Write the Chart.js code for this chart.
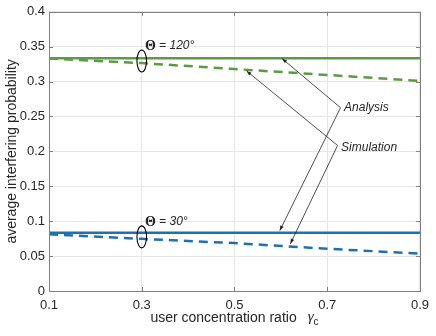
<!DOCTYPE html>
<html><head><meta charset="utf-8">
<script src="https://cdn.jsdelivr.net/npm/chart.js@4"></script>
<style>html,body{margin:0;padding:0;background:#fff}canvas{display:block}</style>
</head><body>
<canvas id="c" width="436" height="336"></canvas>
<script>
// ---- data ----
const xValues = [0.1, 0.3, 0.5, 0.7, 0.9];
const analysis120 = [0.3333, 0.3333, 0.3333, 0.3333, 0.3333];
const simulation120 = [0.333, 0.3265, 0.318, 0.3095, 0.301];
const analysis30 = [0.0833, 0.0833, 0.0833, 0.0833, 0.0833];
const simulation30 = [0.0814, 0.0747, 0.0686, 0.0605, 0.0536];
const xTicks = [0.1, 0.3, 0.5, 0.7, 0.9];
const xTickLabels = ['0.1', '0.3', '0.5', '0.7', '0.9'];
const yTicks = [0, 0.05, 0.1, 0.15, 0.2, 0.25, 0.3, 0.35, 0.4];
const yTickLabels = ['0', '0.05', '0.1', '0.15', '0.2', '0.25', '0.3', '0.35', '0.4'];
const thetaLabels = ['120°', '30°'];
const calloutLabels = ['Analysis', 'Simulation'];

// annotation anchors in data units
const ellipseAt = [[0.3, 0.3295], [0.3, 0.0776]];
const thetaAt = [[0.3068, 0.3509], [0.3068, 0.0989]];
const calloutAnchor = [[0.7287, 0.2626], [0.7223, 0.2085]];
const calloutTips = [[[0.6028, 0.3328], [0.5977, 0.0865]], [[0.526, 0.3153], [0.6205, 0.0676]]];

const GREEN = '#5b9b44', BLUE = '#2070b0', AXC = '#808080', TXT = '#262626';
const SANS = '"Liberation Sans", Arial, Helvetica, sans-serif';
const SERIF = '"Liberation Serif", "Times New Roman", serif';

function pts(ys) { return xValues.map((v, i) => ({x: v, y: ys[i]})); }

const decor = {
  id: 'decor',
  afterDraw(chart) {
    const {ctx, chartArea: a, scales: {x, y}} = chart;
    ctx.save();
    // box + inward ticks
    ctx.strokeStyle = AXC; ctx.lineWidth = 1;
    ctx.strokeRect(Math.round(a.left) + 0.5, Math.round(a.top) + 0.5, Math.round(a.right - a.left), Math.round(a.bottom - a.top));
    ctx.beginPath();
    yTicks.forEach(t => { const py = Math.round(y.getPixelForValue(t)) + 0.5;
      ctx.moveTo(a.left, py); ctx.lineTo(a.left + 4, py); ctx.moveTo(a.right, py); ctx.lineTo(a.right - 4, py); });
    xTicks.forEach(t => { const px = Math.round(x.getPixelForValue(t)) + 0.5;
      ctx.moveTo(px, a.bottom); ctx.lineTo(px, a.bottom - 4); ctx.moveTo(px, a.top); ctx.lineTo(px, a.top + 4); });
    ctx.stroke();

    // ellipses
    ctx.strokeStyle = '#000'; ctx.lineWidth = 1.1;
    ellipseAt.forEach(([ex, ey]) => {
      ctx.beginPath();
      ctx.ellipse(x.getPixelForValue(ex), y.getPixelForValue(ey), 4.8, 11, 0, 0, Math.PI * 2);
      ctx.stroke();
    });

    // theta labels
    ctx.fillStyle = TXT; ctx.textBaseline = 'middle'; ctx.textAlign = 'left';
    thetaAt.forEach(([tx, ty], i) => {
      let px = x.getPixelForValue(tx), py = y.getPixelForValue(ty);
      ctx.font = 'bold 14px ' + SERIF;
      ctx.fillText('Θ', px, py);
      px += ctx.measureText('Θ').width;
      ctx.font = 'italic 12px ' + SANS;
      ctx.fillText(' = ' + thetaLabels[i], px, py);
    });

    // callouts
    ctx.strokeStyle = '#222'; ctx.fillStyle = '#222'; ctx.lineWidth = 0.8;
    calloutAnchor.forEach(([ax, ay], i) => {
      const sx = x.getPixelForValue(ax), sy = y.getPixelForValue(ay);
      calloutTips[i].forEach(([tx, ty]) => {
        const ex = x.getPixelForValue(tx), ey = y.getPixelForValue(ty);
        ctx.beginPath(); ctx.moveTo(sx, sy); ctx.lineTo(ex, ey); ctx.stroke();
        const ang = Math.atan2(ey - sy, ex - sx), L = 5, W = 1.8;
        ctx.beginPath();
        ctx.moveTo(ex, ey);
        ctx.lineTo(ex - L * Math.cos(ang) + W * Math.sin(ang), ey - L * Math.sin(ang) - W * Math.cos(ang));
        ctx.lineTo(ex - L * Math.cos(ang) - W * Math.sin(ang), ey - L * Math.sin(ang) + W * Math.cos(ang));
        ctx.closePath(); ctx.fill();
      });
      ctx.font = 'italic 12px ' + SANS; ctx.fillStyle = TXT;
      ctx.fillText(calloutLabels[i], sx + 3.5, sy + (i === 0 ? 0 : 2));
      ctx.fillStyle = '#222';
    });

    // x-axis title with subscript
    const t1 = 'user concentration ratio';
    ctx.fillStyle = TXT; ctx.textBaseline = 'alphabetic';
    ctx.font = '14px ' + SANS; const w1 = ctx.measureText(t1).width;
    ctx.font = 'italic 15px ' + SERIF; const wg = ctx.measureText('γ').width;
    ctx.font = '10px ' + SANS; const wc = ctx.measureText('c').width;
    const gap = 11;
    const total = w1 + gap + wg + wc;
    let sx = (a.left + a.right) / 2 - total / 2;
    const base = 322;
    ctx.font = '14px ' + SANS; ctx.fillText(t1, sx, base);
    sx += w1 + gap;
    ctx.font = 'italic 15px ' + SERIF; ctx.fillText('γ', sx, base - 1);
    sx += wg;
    ctx.font = '10px ' + SANS; ctx.fillText('c', sx, base + 3);
    ctx.restore();
  }
};

new Chart(document.getElementById('c'), {
  type: 'line',
  data: {
    datasets: [
      {data: pts(analysis120), borderColor: GREEN, borderWidth: 2.5, pointRadius: 0},
      {data: pts(simulation120), borderColor: GREEN, borderWidth: 2.5, borderDash: [9, 6], pointRadius: 0},
      {data: pts(analysis30), borderColor: BLUE, borderWidth: 2.5, pointRadius: 0},
      {data: pts(simulation30), borderColor: BLUE, borderWidth: 2.5, borderDash: [9, 6], pointRadius: 0}
    ]
  },
  options: {
    responsive: false, animation: false, devicePixelRatio: 1,
    layout: {padding: {top: 9, right: 12, left: 0, bottom: 0}},
    plugins: {legend: {display: false}, tooltip: {enabled: false}},
    scales: {
      x: {
        type: 'linear', min: 0.1, max: 0.9,
        afterBuildTicks: s => { s.ticks = xTicks.map(v => ({value: v})); },
        afterFit: s => { s.height = 336 - 291; },
        ticks: {callback: (v, i) => xTickLabels[i], color: TXT, font: {family: SANS, size: 13}, padding: 7, maxRotation: 0, autoSkip: false},
        grid: {color: '#e6e6e6', drawTicks: false},
        border: {display: false}
      },
      y: {
        min: 0, max: 0.4,
        afterBuildTicks: s => { s.ticks = yTicks.map(v => ({value: v})); },
        afterFit: s => { s.width = 49; },
        ticks: {callback: (v, i) => yTickLabels[i], color: TXT, font: {family: SANS, size: 13}, padding: 4, autoSkip: false},
        grid: {color: '#e6e6e6', drawTicks: false},
        border: {display: false},
        title: {display: true, text: 'average interfering probability', color: TXT, font: {family: SANS, size: 14}, padding: {top: 4, bottom: 0}}
      }
    }
  },
  plugins: [decor]
});
</script>
</body></html>
